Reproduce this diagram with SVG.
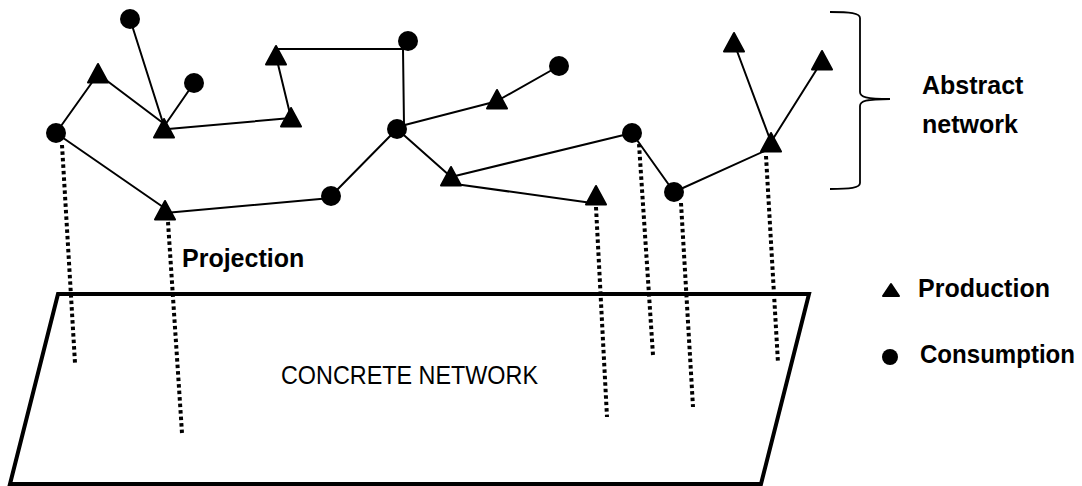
<svg xmlns="http://www.w3.org/2000/svg" width="1082" height="486" viewBox="0 0 1082 486">
<defs>
<style>
.edge{stroke:#000;stroke-width:2;fill:none;stroke-linecap:round}
.proj{stroke:#000;stroke-width:4;fill:none;stroke-dasharray:3.5 3}
.node{fill:#000}
.tri{fill:#000;stroke:#000;stroke-width:2;stroke-linejoin:round}
.lbl{font-family:"Liberation Sans",Arial,sans-serif;font-weight:bold;font-size:25px;fill:#000}
.plain{font-family:"Liberation Sans",Arial,sans-serif;font-size:26px;fill:#000}
</style>
<path id="tri" class="tri" d="M0,-10 L10,8.5 L-10,8.5 Z"/>
</defs>
<rect width="1082" height="486" fill="#fff"/>

<g id="concrete-network">
<polygon points="58,294 809,294 761,484 10,484" fill="none" stroke="#000" stroke-width="4" stroke-linejoin="miter"/>
<text class="plain" x="281" y="384" textLength="257" lengthAdjust="spacingAndGlyphs">CONCRETE NETWORK</text>
</g>

<g id="projections">
<line class="proj" x1="62" y1="145" x2="75" y2="363"/>
<line class="proj" x1="168" y1="222" x2="182" y2="433"/>
<line class="proj" x1="596" y1="207" x2="607" y2="417"/>
<line class="proj" x1="639" y1="144" x2="653" y2="355"/>
<line class="proj" x1="681" y1="203" x2="693" y2="407"/>
<line class="proj" x1="766" y1="156" x2="778" y2="363"/>
</g>

<g id="connectors">
<line class="edge" x1="56" y1="133" x2="98" y2="74"/>
<line class="edge" x1="98" y1="74" x2="163" y2="123"/>
<line class="edge" x1="130" y1="19" x2="163" y2="123"/>
<line class="edge" x1="194" y1="83" x2="165" y2="125"/>
<line class="edge" x1="168" y1="129" x2="291" y2="118"/>
<line class="edge" x1="291" y1="118" x2="276" y2="56"/>
<polyline class="edge" points="276,49 403,49 404,125"/>
<line class="edge" x1="397" y1="127" x2="490" y2="103"/>
<line class="edge" x1="497" y1="101" x2="559" y2="66"/>
<line class="edge" x1="397" y1="129" x2="331" y2="196"/>
<line class="edge" x1="331" y1="198" x2="165" y2="213"/>
<line class="edge" x1="163" y1="207" x2="56" y2="133"/>
<line class="edge" x1="397" y1="129" x2="450" y2="176"/>
<line class="edge" x1="455" y1="176" x2="632" y2="133"/>
<line class="edge" x1="455" y1="184" x2="592" y2="203"/>
<line class="edge" x1="632" y1="133" x2="674" y2="192"/>
<line class="edge" x1="674" y1="192" x2="769" y2="149"/>
<line class="edge" x1="771" y1="142" x2="734" y2="43"/>
<line class="edge" x1="771" y1="142" x2="822" y2="61"/>
</g>

<g id="C1"><circle class="node" cx="130" cy="19" r="10"/></g>
<g id="C2"><circle class="node" cx="194" cy="83" r="10"/></g>
<g id="C3"><circle class="node" cx="56" cy="133" r="10"/></g>
<g id="C4"><circle class="node" cx="331" cy="196" r="10"/></g>
<g id="C5"><circle class="node" cx="408" cy="41" r="10"/></g>
<g id="C6"><circle class="node" cx="397" cy="129" r="10"/></g>
<g id="C7"><circle class="node" cx="559" cy="66" r="10"/></g>
<g id="C8"><circle class="node" cx="632" cy="133" r="10"/></g>
<g id="C9"><circle class="node" cx="674" cy="192" r="10"/></g>

<g id="T1"><use href="#tri" x="98" y="74"/></g>
<g id="T2"><use href="#tri" x="164" y="129"/></g>
<g id="T3"><use href="#tri" x="276" y="56"/></g>
<g id="T4"><use href="#tri" x="291" y="118"/></g>
<g id="T5"><use href="#tri" x="165" y="211"/></g>
<g id="T6"><use href="#tri" x="497" y="100"/></g>
<g id="T7"><use href="#tri" x="451" y="177"/></g>
<g id="T8"><use href="#tri" x="596" y="196"/></g>
<g id="T9"><use href="#tri" x="734" y="43"/></g>
<g id="T10"><use href="#tri" x="822" y="61"/></g>
<g id="T11"><use href="#tri" x="771" y="143"/></g>

<g id="brace">
<path d="M830,12 C850,12 860,13 860,18 L860,92 C860,97 866,99 890,99 C866,99 860,101 860,106 L860,183 C860,188 850,189 830,189" fill="none" stroke="#000" stroke-width="1.8"/>
</g>
<g id="abstract-label">
<text class="lbl" x="922" y="94">Abstract</text>
<text class="lbl" x="922" y="133">network</text>
</g>
<g id="projection-label">
<text class="lbl" x="182" y="267">Projection</text>
</g>

<g id="legend">
<path class="tri" d="M891,284 L899,296 L883,296 Z"/>
<text class="lbl" x="918" y="297">Production</text>
<circle class="node" cx="890" cy="357" r="8"/>
<text class="lbl" x="920" y="363" textLength="155" lengthAdjust="spacingAndGlyphs">Consumption</text>
</g>
</svg>
